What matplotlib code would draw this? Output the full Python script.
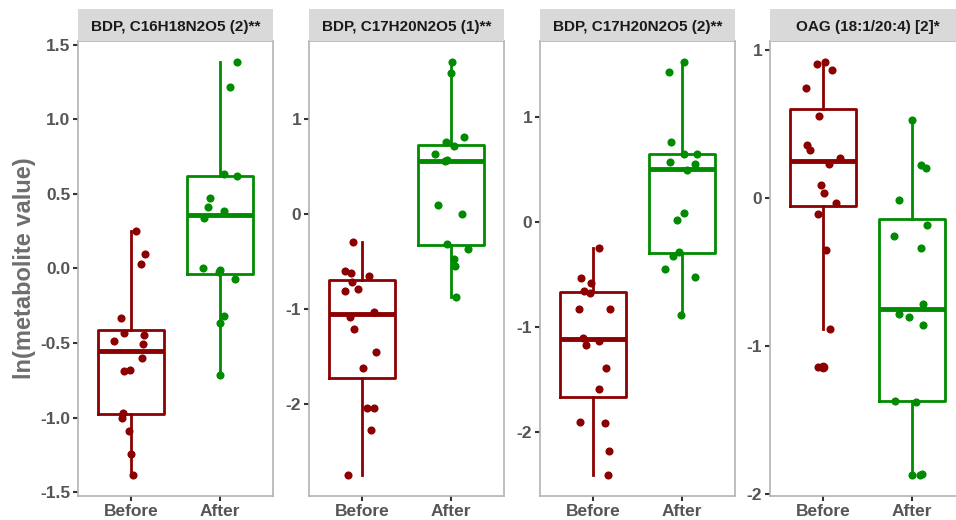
import numpy as np
import matplotlib
matplotlib.use("Agg")
import matplotlib.pyplot as plt
from matplotlib.ticker import FormatStrFormatter

plt.rcParams['font.family'] = ['Liberation Sans', 'DejaVu Sans']
plt.rcParams['axes.unicode_minus'] = False

# ---- data ----
groups = ['Before', 'After']
titles = ['BDP, C16H18N2O5 (2)**', 'BDP, C17H20N2O5 (1)**',
          'BDP, C17H20N2O5 (2)**', 'OAG (18:1/20:4) [2]*']

before_1 = [0.247, 0.096, 0.029, -0.331, -0.431, -0.449, -0.487, -0.507,
            -0.604, -0.682, -0.687, -0.969, -1.000, -1.093, -1.244, -1.387]
after_1 = [1.385, 1.218, 0.629, 0.618, 0.473, 0.411, 0.385, 0.340,
           0.000, -0.011, -0.027, -0.071, -0.322, -0.364, -0.715]
before_2 = [-0.302, -0.600, -0.620, -0.651, -0.713, -0.790, -0.815, -1.034,
            -1.086, -1.215, -1.456, -1.623, -2.042, -2.042, -2.272, -2.750]
after_2 = [1.598, 1.476, 0.803, 0.751, 0.709, 0.626, 0.560, 0.552,
           0.092, -0.002, -0.316, -0.371, -0.476, -0.546, -0.878]
before_3 = [-0.241, -0.535, -0.578, -0.658, -0.673, -0.828, -0.831, -1.100,
            -1.132, -1.170, -1.393, -1.592, -1.902, -1.915, -2.180, -2.411]
after_3 = [1.529, 1.434, 0.761, 0.654, 0.650, 0.572, 0.550, 0.502,
           0.091, 0.022, -0.288, -0.319, -0.449, -0.521, -0.882]
before_4 = [0.921, 0.906, 0.865, 0.740, 0.552, 0.360, 0.324, 0.272,
            0.232, 0.085, 0.031, -0.036, -0.107, -0.349, -0.881, -1.140]
after_4 = [0.530, 0.223, 0.201, -0.013, -0.181, -0.255, -0.335, -0.716,
           -0.785, -0.801, -0.857, -1.371, -1.375, -1.860, -1.867, -1.872]

# box statistics (q1, median, q3, whisker low, whisker high)
before_q1 = [-0.978, -1.725, -1.662, -0.056]
before_med = [-0.553, -1.059, -1.116, 0.250]
before_q3 = [-0.411, -0.696, -0.667, 0.601]
before_lo = [-1.387, -2.750, -2.411, -0.881]
before_hi = [0.247, -0.302, -0.241, 0.914]
before_out = [[], [], [], [-1.140]]

after_q1 = [-0.037, -0.330, -0.294, -1.371]
after_med = [0.358, 0.552, 0.508, -0.752]
after_q3 = [0.622, 0.720, 0.654, -0.141]
after_lo = [-0.715, -0.878, -0.882, -1.867]
after_hi = [1.385, 1.598, 1.529, 0.530]
after_out = [[], [], [], []]

y_ticks = [[-1.5, -1.0, -0.5, 0.0, 0.5, 1.0, 1.5],
           [-2, -1, 0, 1], [-2, -1, 0, 1], [-2, -1, 0, 1]]
tick_fmt = ['%.1f', '%d', '%d', '%d']

before_all = [before_1, before_2, before_3, before_4]
after_all = [after_1, after_2, after_3, after_4]

col_before = '#8B0000'
col_after = '#008B00'
grey_txt = '#555555'

W, H = 956, 520
fig = plt.figure(figsize=(W / 100, H / 100), dpi=100)

panel_left = [78, 309, 540, 770]
panel_w = 195
panel_top, panel_bot = 41, 496
strip_top = 9

rng = np.random.default_rng(7)

for i in range(4):
    x0 = panel_left[i]
    ax = fig.add_axes([x0 / W, 1 - panel_bot / H, panel_w / W,
                       (panel_bot - panel_top) / H])
    sax = fig.add_axes([x0 / W, 1 - panel_top / H, panel_w / W,
                        (panel_top - strip_top) / H])
    sax.set_facecolor('#D9D9D9')
    sax.set_xticks([])
    sax.set_yticks([])
    for s in sax.spines.values():
        s.set_visible(False)
    sax.text(0.5, 0.45, titles[i], ha='center', va='center', fontsize=11,
             fontweight='bold', color='#1A1A1A', transform=sax.transAxes)

    sets = [
        (1, before_all[i], col_before, before_q1[i], before_med[i],
         before_q3[i], before_lo[i], before_hi[i], before_out[i]),
        (2, after_all[i], col_after, after_q1[i], after_med[i],
         after_q3[i], after_lo[i], after_hi[i], after_out[i]),
    ]
    for pos, vals, col, q1, med, q3, lo, hi, out in sets:
        stats = [dict(q1=q1, med=med, q3=q3, whislo=lo, whishi=hi,
                      fliers=out)]
        ax.bxp(stats, positions=[pos], widths=0.75, showcaps=False,
               boxprops=dict(color=col, linewidth=2),
               whiskerprops=dict(color=col, linewidth=2),
               medianprops=dict(color=col, linewidth=3.5),
               flierprops=dict(marker='o', markerfacecolor=col,
                               markeredgecolor=col, markersize=6))
        jit = rng.uniform(-0.2, 0.2, len(vals))
        ax.scatter(pos + jit, vals, s=34, color=col, linewidths=0, zorder=3)

    lo_all = min(min(before_all[i]), min(after_all[i]))
    hi_all = max(max(before_all[i]), max(after_all[i]))
    r = hi_all - lo_all
    ax.set_ylim(lo_all - 0.05 * r, hi_all + 0.05 * r)
    ax.set_xlim(0.4, 2.6)
    ax.set_yticks(y_ticks[i])
    ax.yaxis.set_major_formatter(FormatStrFormatter(tick_fmt[i]))
    ax.set_xticks([1, 2])
    ax.set_xticklabels(groups)
    ax.tick_params(axis='both', length=3.5, width=1.5, color='#333333',
                   labelcolor=grey_txt, pad=2)
    ax.tick_params(axis='y', labelsize=12.5)
    ax.tick_params(axis='x', labelsize=12.5)
    for lab in ax.get_xticklabels() + ax.get_yticklabels():
        lab.set_fontweight('bold')
    for s in ax.spines.values():
        s.set_color('#B3B3B3')
        s.set_linewidth(1.2)

fig.text(25 / W, 1 - ((panel_top + panel_bot) / 2) / H, 'ln(metabolite value)',
         rotation=90, ha='center', va='center', fontsize=17,
         fontweight='bold', color='#6E6E6E')

fig.savefig('out.png', dpi=100)
